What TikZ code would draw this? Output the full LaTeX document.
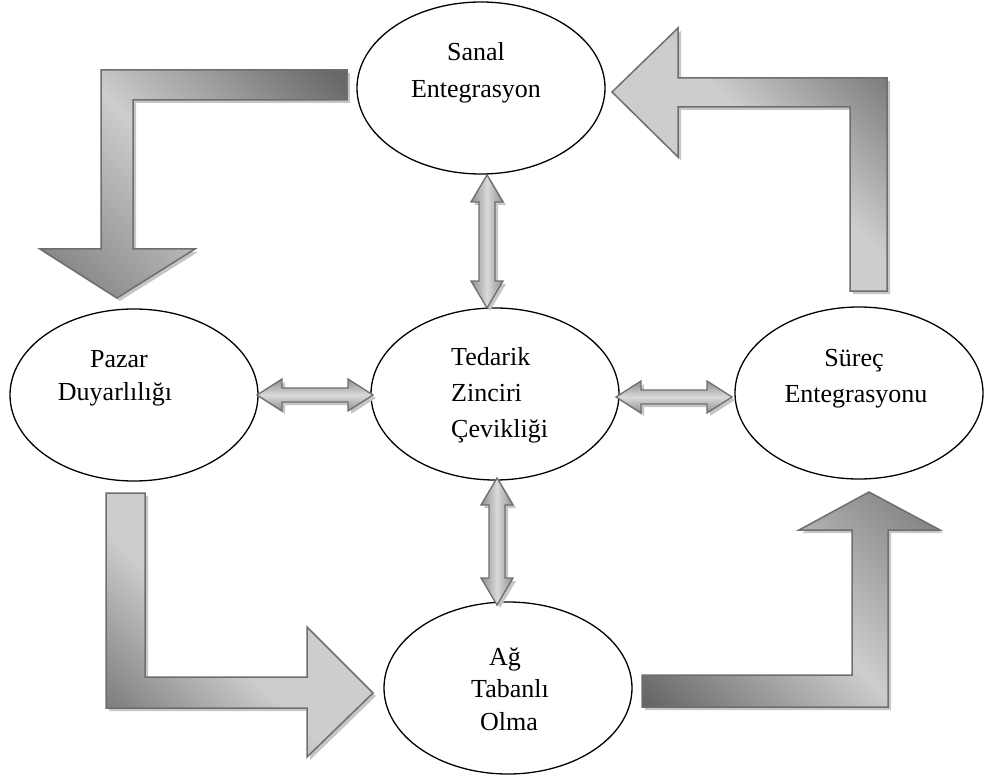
\documentclass[tikz,border=0pt]{standalone}
\usepackage{fontspec}
\setmainfont{Liberation Serif}
\usetikzlibrary{shapes.geometric}
\definecolor{gdark}{HTML}{676767}
\definecolor{gmed}{HTML}{858585}
\definecolor{glight}{HTML}{CDCDCD}
\definecolor{gvlight}{HTML}{DADADA}
\definecolor{gline}{HTML}{6E6E6E}
\definecolor{gshadow}{HTML}{C6C6C6}
\definecolor{gmid}{HTML}{8E8E8E}
\pgfdeclarehorizontalshading{dlm}{100bp}{color(0bp)=(gdark); color(16bp)=(gdark); color(50bp)=(glight); color(80bp)=(gmed); color(100bp)=(gmed)}
\pgfdeclarehorizontalshading{dlg}{100bp}{color(0bp)=(gdark); color(15bp)=(gdark); color(45bp)=(glight); color(100bp)=(glight)}
\pgfdeclarehorizontalshading{cyl}{100bp}{color(0bp)=(gmid); color(25bp)=(gmid); color(50bp)=(gvlight); color(75bp)=(gmid); color(100bp)=(gmid)}
\tikzset{
  ell/.style={draw=black, line width=1.3pt, fill=white, ellipse, minimum width=248pt, minimum height=172pt, inner sep=0pt},
  lbl/.style={font=\fontsize{26}{36}\selectfont, inner sep=0pt, anchor=base},
  bigarrow/.style={shade, draw=gline, line width=1.5pt, line join=miter},
  shadowfill/.style={fill=gshadow, shift={(3,3)}},
  smallarrow/.style={shade, shading=cyl, draw=gline, line width=1.3pt, line join=miter},
}
\newcommand\vdbl[3]{%
  \fill[shadowfill] (#1,#2) -- (#1+16,#2+27) -- (#1+8,#2+27) -- (#1+8,#3-27) -- (#1+16,#3-27) -- (#1,#3) -- (#1-16,#3-27) -- (#1-8,#3-27) -- (#1-8,#2+27) -- (#1-16,#2+27) -- cycle;
  \path[smallarrow, shading angle=0] (#1,#2) -- (#1+16,#2+27) -- (#1+8,#2+27) -- (#1+8,#3-27) -- (#1+16,#3-27) -- (#1,#3) -- (#1-16,#3-27) -- (#1-8,#3-27) -- (#1-8,#2+27) -- (#1-16,#2+27) -- cycle;}
\newcommand\hdbl[3]{%
  \fill[shadowfill] (#2,#1) -- (#2+25,#1-16) -- (#2+25,#1-7) -- (#3-25,#1-7) -- (#3-25,#1-16) -- (#3,#1) -- (#3-25,#1+16) -- (#3-25,#1+7) -- (#2+25,#1+7) -- (#2+25,#1+16) -- cycle;
  \path[smallarrow, shading angle=90] (#2,#1) -- (#2+25,#1-16) -- (#2+25,#1-7) -- (#3-25,#1-7) -- (#3-25,#1-16) -- (#3,#1) -- (#3-25,#1+16) -- (#3-25,#1+7) -- (#2+25,#1+7) -- (#2+25,#1+16) -- cycle;}
\def\arrowA{(347,70) -- (101,70) -- (101,249) -- (40,249) -- (117,298) -- (195,249) -- (133,249) -- (133,100) -- (347,100) -- cycle}
\def\arrowB{(850,291) -- (850,107) -- (678,107) -- (678,157) -- (612,92) -- (678,28) -- (678,78) -- (887,78) -- (887,291) -- cycle}
\def\arrowC{(106,493) -- (145,493) -- (145,677) -- (307,677) -- (307,627) -- (373,693) -- (307,757) -- (307,708) -- (106,708) -- cycle}
\def\arrowD{(642,675) -- (852,675) -- (852,530) -- (799,530) -- (869,492) -- (940,530) -- (888,530) -- (888,707) -- (642,707) -- cycle}
\begin{document}
\begin{tikzpicture}[x=1pt, y=-1pt]
\useasboundingbox (0,0) rectangle (989,781);
% big bent arrows
\fill[shadowfill] \arrowA;
\path[bigarrow, shading=dlm, shading angle=225] \arrowA;
\fill[shadowfill] \arrowB;
\path[bigarrow, shading=dlg, shading angle=225] \arrowB;
\fill[shadowfill] \arrowC;
\path[bigarrow, shading=dlg, shading angle=45] \arrowC;
\fill[shadowfill] \arrowD;
\path[bigarrow, shading=dlm, shading angle=45] \arrowD;
% ellipses
\node[ell] (san) at (481,88) {};
\node[ell] (paz) at (134,395) {};
\node[ell] (ted) at (495,394) {};
\node[ell] (sur) at (859,393) {};
\node[ell] (ag) at (508,688) {};
% double arrows
\vdbl{487}{175}{308}
\vdbl{497}{478}{605}
\hdbl{395}{257}{373}
\hdbl{397}{616}{732}
% labels
\node[lbl] (san1) at (476,61) {Sanal};
\node[lbl] (san2) at (476,98) {Entegrasyon};
\node[lbl] (paz1) at (119,367) {Pazar};
\node[lbl] (paz2) at (115,400) {Duyarlılığı};
\node[lbl, anchor=base west] (ted1) at (451,365) {Tedarik};
\node[lbl, anchor=base west] (ted2) at (451,401) {Zinciri};
\node[lbl, anchor=base west] (ted3) at (451,437) {Çevikliği};
\node[lbl] (sur1) at (854,366) {Süreç};
\node[lbl] (sur2) at (856,402) {Entegrasyonu};
\node[lbl] (ag1) at (505,665) {Ağ};
\node[lbl] (ag2) at (510,697) {Tabanlı};
\node[lbl] (ag3) at (509,730) {Olma};
\end{tikzpicture}
\end{document}
